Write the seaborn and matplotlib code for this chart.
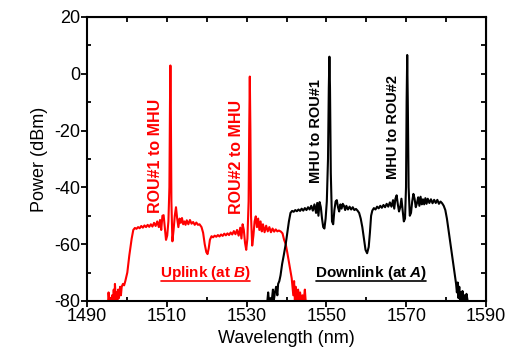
import matplotlib
matplotlib.use("Agg")
import matplotlib.pyplot as plt
from matplotlib.lines import Line2D
from matplotlib.ticker import MultipleLocator
import seaborn as sns

# 上行光譜 (紅) 數值 — 由圖讀取
up_wl = [1495.3, 1495.4, 1495.6, 1495.9, 1496.1, 1496.3, 1496.5, 1496.7, 1496.9, 1497.0,
         1497.2, 1497.4, 1497.6, 1497.8, 1498.0, 1498.3, 1498.5, 1498.7, 1499.0, 1499.3,
         1499.6, 1500.1, 1500.6, 1501.2, 1501.6, 1502.0, 1502.4, 1502.8, 1503.2, 1503.6,
         1504.0, 1504.4, 1504.8, 1505.2, 1505.6, 1506.0, 1506.4, 1506.8, 1507.2, 1507.6,
         1508.0, 1508.3, 1508.6, 1508.9, 1509.2, 1509.5, 1509.8, 1510.1, 1510.4, 1510.65,
         1510.8, 1510.9, 1511.0, 1511.15, 1511.4, 1511.7, 1512.0, 1512.3, 1512.6, 1512.9,
         1513.2, 1513.5, 1513.8, 1514.1, 1514.4, 1514.7, 1515.0, 1515.4, 1515.8, 1516.2,
         1516.6, 1517.0, 1517.4, 1517.8, 1518.2, 1518.7, 1519.1, 1519.5, 1519.9, 1520.2,
         1520.5, 1520.8, 1521.2, 1521.6, 1522.0, 1522.4, 1522.8, 1523.2, 1523.6, 1524.0,
         1524.4, 1524.8, 1525.2, 1525.6, 1526.0, 1526.4, 1526.8, 1527.2, 1527.6, 1528.0,
         1528.4, 1528.7, 1529.0, 1529.3, 1529.6, 1529.9, 1530.2, 1530.5, 1530.65, 1530.8,
         1530.95, 1531.1, 1531.4, 1531.7, 1532.0, 1532.3, 1532.6, 1532.9, 1533.2, 1533.5,
         1533.8, 1534.1, 1534.5, 1534.9, 1535.3, 1535.7, 1536.1, 1536.5, 1536.9, 1537.3,
         1537.7, 1538.1, 1538.6, 1539.0, 1539.4, 1539.8, 1540.2, 1540.8, 1541.3, 1541.5,
         1541.7, 1541.9, 1542.1, 1542.3, 1542.5, 1542.7, 1542.9, 1543.1, 1543.4, 1543.7,
         1544.0, 1544.3, 1544.6, 1544.8, 1545.2]
up_pw = [-80, -77, -80, -79, -80, -78, -80, -76, -80, -74,
         -79, -77, -80, -76, -79, -75, -78, -75, -74, -74.5,
         -73, -70, -64, -58, -55, -54.3, -54.6, -54.0, -54.4, -53.6,
         -54.2, -53.4, -54.0, -53.2, -53.9, -53.0, -53.8, -52.5, -53.6, -52.0,
         -54.0, -51.5, -55, -50, -49.8, -54, -58.5, -57, -52, -40,
         -10, 2.9, -10, -45, -59, -55, -50, -47, -51, -54,
         -51, -52.5, -50.8, -53, -52, -53.2, -51.6, -53, -51.5, -52.8,
         -52.2, -53.2, -52.4, -53.2, -53.0, -54, -56, -60, -62.8, -63.5,
         -61.5, -58.5, -57.2, -57.6, -57.0, -57.4, -56.8, -57.3, -56.6, -57.1,
         -56.3, -56.9, -56.2, -56.8, -55.9, -56.6, -55.4, -56.5, -55.0, -57.0,
         -54.2, -58, -53, -55, -59.5, -62, -58, -45, -20, -1,
         -20, -50, -60.5, -57, -52, -50.2, -54, -51, -55, -52,
         -55.5, -53, -55.8, -53.5, -55.5, -54, -55.8, -54.5, -55.6, -54.8,
         -55.5, -55.2, -55.6, -56.2, -58.5, -60, -63, -68, -72, -75,
         -78, -73, -80, -75, -78, -80, -76, -80, -77, -80,
         -78, -80, -76, -80, -80]

# 下行光譜 (黑) 數值
down_wl = [1535.2, 1535.4, 1535.6, 1536.0, 1536.3, 1536.6, 1536.8, 1537.1, 1537.4, 1537.7,
           1537.9, 1538.2, 1538.5, 1538.9, 1539.3, 1539.8, 1540.2, 1540.6, 1541.0, 1541.4,
           1541.8, 1542.2, 1542.6, 1543.0, 1543.4, 1543.8, 1544.2, 1544.6, 1545.0, 1545.4,
           1545.8, 1546.2, 1546.6, 1547.0, 1547.4, 1547.7, 1548.0, 1548.3, 1548.6, 1548.9,
           1549.2, 1549.5, 1549.8, 1550.1, 1550.4, 1550.6, 1550.75, 1550.9, 1551.1, 1551.4,
           1551.7, 1552.0, 1552.3, 1552.6, 1552.9, 1553.2, 1553.5, 1553.8, 1554.1, 1554.4,
           1554.7, 1555.0, 1555.4, 1555.8, 1556.2, 1556.6, 1557.0, 1557.4, 1557.8, 1558.2,
           1558.6, 1559.0, 1559.4, 1559.8, 1560.2, 1560.6, 1560.9, 1561.2, 1561.5, 1561.9,
           1562.3, 1562.7, 1563.1, 1563.5, 1563.9, 1564.3, 1564.7, 1565.1, 1565.5, 1565.9,
           1566.3, 1566.7, 1567.0, 1567.3, 1567.6, 1567.9, 1568.2, 1568.5, 1568.8, 1569.1,
           1569.4, 1569.7, 1569.95, 1570.1, 1570.25, 1570.4, 1570.6, 1570.9, 1571.2, 1571.5,
           1571.8, 1572.1, 1572.4, 1572.7, 1573.0, 1573.3, 1573.6, 1573.9, 1574.2, 1574.5,
           1574.8, 1575.1, 1575.4, 1575.8, 1576.2, 1576.6, 1577.0, 1577.4, 1577.8, 1578.2,
           1578.6, 1579.0, 1579.4, 1579.8, 1580.2, 1580.6, 1581.0, 1581.4, 1581.8, 1582.2,
           1582.5, 1582.7, 1582.9, 1583.1, 1583.3, 1583.5, 1583.7, 1583.9, 1584.1, 1584.3,
           1584.6, 1584.9, 1585.1, 1585.4]
down_pw = [-80, -77, -80, -79, -80, -76, -80, -77, -75, -78,
           -74, -73, -71, -67, -64, -60, -56, -52, -49, -48.3,
           -48.6, -48.0, -48.4, -47.8, -48.3, -47.5, -48.2, -47.3, -48.0, -47.0,
           -47.8, -46.5, -48.2, -46.0, -49, -45.5, -50, -45.2, -47, -51,
           -54, -54.5, -51, -45, -30, -5, 6.0, -5, -35, -52,
           -53, -48, -45, -44.5, -47, -48.5, -46, -47.5, -45.8, -46.5,
           -48, -46.5, -47.8, -46.8, -47.8, -47, -48, -47.6, -48.2, -49,
           -51, -54, -58, -62, -63.2, -61, -56, -50, -48.2, -47.3,
           -47.8, -46.8, -47.4, -46.5, -47.2, -46.2, -47.0, -45.8, -46.8, -45.3,
           -46.8, -44.5, -47.5, -44, -42.8, -46, -48.5, -47, -44, -48,
           -52, -51, -40, -10, 6.6, -10, -40, -50, -49, -45,
           -42.3, -44, -47, -45.5, -43.5, -46.5, -43.3, -46, -44.2, -46,
           -43.8, -45.8, -44, -45.5, -44.2, -45.6, -44.4, -45.5, -44.4, -45.8,
           -45, -45.6, -46.5, -48, -51, -55, -59, -63, -67, -71,
           -74, -77, -73.5, -79, -75, -80, -77, -80, -76.5, -80,
           -78, -80, -77.5, -80]

x_ticks = [1490, 1510, 1530, 1550, 1570, 1590]
y_ticks = [-80, -60, -40, -20, 0, 20]

sns.set_style("ticks")
plt.rcParams['font.family'] = ['Liberation Sans', 'DejaVu Sans']
plt.rcParams['mathtext.fontset'] = 'custom'
plt.rcParams['mathtext.it'] = 'Liberation Sans:italic:bold'
plt.rcParams['axes.unicode_minus'] = False
plt.rcParams['text.color'] = 'black'
plt.rcParams['axes.labelcolor'] = 'black'
plt.rcParams['xtick.color'] = 'black'
plt.rcParams['ytick.color'] = 'black'

fig = plt.figure(figsize=(5.13, 3.6), dpi=100)
ax = fig.add_axes([0.1696, 0.164, 0.7778, 0.789])

sns.lineplot(x=up_wl, y=up_pw, color='#ff0000', linewidth=1.5, sort=False,
             estimator=None, ax=ax)
sns.lineplot(x=down_wl, y=down_pw, color='black', linewidth=1.5, sort=False,
             estimator=None, ax=ax)

ax.set_xlim(1490, 1590)
ax.set_ylim(-80, 20)
ax.set_xticks(x_ticks)
ax.set_yticks(y_ticks)
ax.xaxis.set_minor_locator(MultipleLocator(10))
ax.yaxis.set_minor_locator(MultipleLocator(10))
ax.tick_params(which='major', direction='out', length=4, width=1.3,
               labelsize=13, pad=1, colors='black')
ax.tick_params(which='minor', direction='in', length=3, width=1.3)
for s in ax.spines.values():
    s.set_linewidth(1.5)
    s.set_color('black')

# 上/右側刻度 (朝內)
secx = ax.secondary_xaxis('top')
secx.set_xticks(x_ticks)
secx.xaxis.set_minor_locator(MultipleLocator(10))
secx.set_xticklabels([])
secx.tick_params(which='both', direction='in', length=3.5, width=1.3)
secy = ax.secondary_yaxis('right')
secy.set_yticks(y_ticks)
secy.yaxis.set_minor_locator(MultipleLocator(10))
secy.set_yticklabels([])
secy.tick_params(which='both', direction='in', length=3.5, width=1.3)

ax.set_xlabel("Wavelength (nm)", fontsize=13, labelpad=4)
ax.set_ylabel("Power (dBm)", fontsize=13, labelpad=4)

kw = dict(rotation=90, ha='center', va='center', fontweight='bold')
ax.text(1507.2, -28.8, "ROU#1 to MHU", color='#ff0000', fontsize=11.5, **kw)
ax.text(1527.4, -29.2, "ROU#2 to MHU", color='#ff0000', fontsize=11.5, **kw)
ax.text(1547.3, -20.1, "MHU to ROU#1", color='black', fontsize=10.5, **kw)
ax.text(1566.7, -18.6, "MHU to ROU#2", color='black', fontsize=10.5, **kw)

label_y = -71.5
t_up = ax.text(1519.6, label_y, r"Uplink (at $\it{B}$)", color='#ff0000',
               fontsize=11, fontweight='bold', ha='center', va='baseline')
t_down = ax.text(1561.1, label_y, r"Downlink (at $\it{A}$)", color='black',
                 fontsize=11, fontweight='bold', ha='center', va='baseline')

# 底線 (緊貼基線)
fig.canvas.draw()
inv = ax.transData.inverted()
for t, c in [(t_up, '#ff0000'), (t_down, 'black')]:
    bb = t.get_window_extent()
    x0, x1 = inv.transform([(bb.x0 + 1, 0), (bb.x1 - 1, 0)])[:, 0]
    ax.add_line(Line2D([x0, x1], [label_y - 1.4] * 2, color=c, linewidth=1.2,
                       clip_on=False))

fig.savefig("out.png", dpi=100)
